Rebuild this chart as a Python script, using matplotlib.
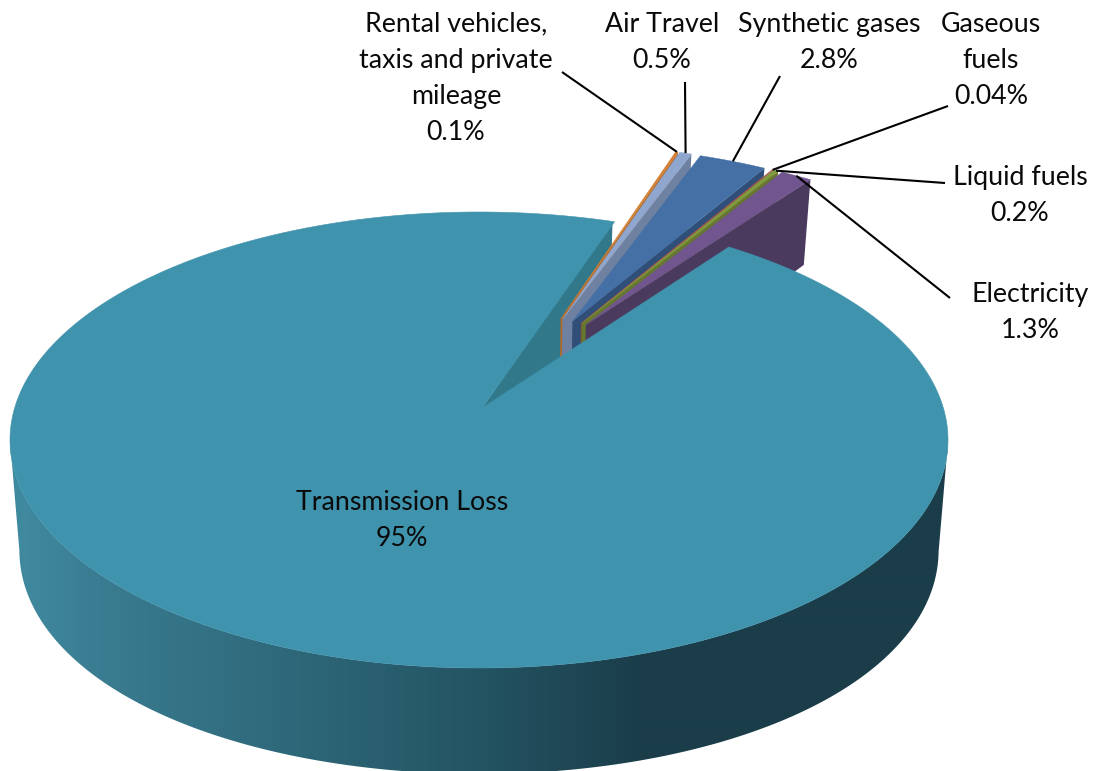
import numpy as np
import matplotlib
matplotlib.use("Agg")
import matplotlib.pyplot as plt
from matplotlib.patches import Polygon

# Emission shares, main slice first, then the small slices clockwise
names = ["Transmission Loss", "Rental vehicles,\ntaxis and private\nmileage", "Air Travel",
         "Synthetic gases", "Gaseous\nfuels", "Liquid fuels", "Electricity"]
values = [95, 0.1, 0.5, 2.8, 0.04, 0.2, 1.3]
value_labels = ["95%", "0.1%", "0.5%", "2.8%", "0.04%", "0.2%", "1.3%"]

top_colors = ["#4093AD", "#D57F32", "#8FA7CE", "#4570A5", "#B5504C", "#7E9B40", "#70558E"]
wall_colors = ["#31788A", "#B06A2C", "#6F81A0", "#2F4F78", "#8C3D3A", "#66772F", "#4A3A5E"]

label_centers = [(402, 520.5), (456, 78.5), (662, 42.5), (829, 42.5), (991, 60.5), (1020, 195.5), (1030, 312.5)]
leader_starts = [None, (562, 72), (685, 82), (780, 76), (948, 106), (945, 183), (950, 298)]

# Projected pie geometry, in figure pixels
CX, CY, RX, RY = 479.0, 440.0, 469.0, 228.0
APEX_U, APEX_V = 0.0064, -0.14
DEPTH_SCALE = 0.98
EXPLODE = 0.46
START_ANGLE = 18.6


def to_screen(du, dv):
    """Perspective map from the pie's unit disc onto the tilted top ellipse."""
    du, dv = np.asarray(du, float), np.asarray(dv, float)
    d = 1 + dv * APEX_V
    v = (dv + APEX_V) / d
    u = du * np.sqrt(1 - APEX_V ** 2) / d
    d2 = 1 + u * APEX_U
    u2 = (u + APEX_U) / d2
    v2 = v * np.sqrt(1 - APEX_U ** 2) / d2
    return CX + RX * u2, CY + RY * v2


def lowered(x, y):
    """Carry a point on the top face down to the bottom face of the pie."""
    v = (y - CY) / RY
    return CX + (x - CX) * DEPTH_SCALE, y + 110 + 8 * v - 12 * v ** 2


def on_circle(theta, ox=0.0, oy=0.0):
    t = np.radians(theta)
    return ox + np.sin(t), oy - np.cos(t)


plt.rcParams["font.family"] = ["Lato", "DejaVu Sans"]
fig = plt.figure(figsize=(10.96, 7.71), dpi=100)
ax = fig.add_axes([0, 0, 1, 1])

sweeps = 360 * np.array(values) / sum(values)
small_edges = START_ANGLE + np.concatenate([[0], np.cumsum(sweeps[1:])])
main_from, main_to = small_edges[-1], START_ANGLE + 360

rim = np.arange(main_from, main_to + 0.5, 0.5)
rim_x, rim_y = to_screen(*on_circle(rim))

# Outer rim of the main slice: a left-to-right shade clipped to the side band
front = rim_y > CY
front_x, front_y = rim_x[front], rim_y[front]
low_x, low_y = lowered(front_x, front_y)
band = Polygon(np.c_[np.r_[front_x, low_x[::-1]], np.r_[front_y, low_y[::-1]]],
               closed=True, transform=ax.transData, fc="none", ec="none")
ax.add_patch(band)
xs = np.arange(0, 1096)
stops = [15, 100, 300, 470, 640]
shade = np.stack([np.interp(xs, stops, [64, 58, 45, 36, 27]),
                  np.interp(xs, stops, [138, 124, 103, 85, 61]),
                  np.interp(xs, stops, [160, 145, 120, 100, 74])], axis=-1)[None, :, :] / 255
img = ax.imshow(shade, extent=(0, 1096, 771, 0), aspect="auto", interpolation="bilinear", zorder=1)
img.set_clip_path(band)

# Cut face of the main slice seen through the gap
ax_, ay_ = to_screen(0.0, 0.0)
ox_, oy_ = to_screen(*on_circle(main_to))
lx0, ly0 = lowered(ax_, ay_)
lx1, ly1 = lowered(ox_, oy_)
ax.fill([ax_, ox_, lx1, lx0], [ay_, oy_, ly1, ly0], color=wall_colors[0], lw=0, zorder=2)

# Exploded slices, left to right so nearer ones cover their neighbours
outer_mids = [None]
for k in range(1, len(values)):
    a0, a1 = small_edges[k - 1], small_edges[k]
    mid = 0.5 * (a0 + a1)
    direction = np.radians(27.0 + 0.52 * (mid - 26.5))
    off_u, off_v = EXPLODE * np.sin(direction), -EXPLODE * np.cos(direction)
    px, py = to_screen(off_u, off_v)
    arc = np.linspace(a0, a1, 16)
    qx, qy = to_screen(*on_circle(arc, off_u, off_v))
    wx0, wy0 = lowered(px, py)
    wx1, wy1 = lowered(qx[-1], qy[-1])
    z = 3 + k
    ax.fill([px, qx[-1], wx1, wx0], [py, qy[-1], wy1, wy0], color=wall_colors[k], lw=0, zorder=z)
    ax.fill(np.r_[px, qx], np.r_[py, qy], facecolor=top_colors[k], edgecolor=top_colors[k],
            lw=0.3, zorder=z)
    outer_mids.append(to_screen(*on_circle(mid, off_u, off_v)))

# Top face of the main slice
ax.fill(np.r_[ax_, rim_x], np.r_[ay_, rim_y], facecolor=top_colors[0], edgecolor=top_colors[0],
        lw=0.4, zorder=20)

# Leader lines and labels
for start, end in zip(leader_starts[1:], outer_mids[1:]):
    ax.plot([start[0], float(end[0])], [start[1], float(end[1])], color="black", lw=1.5,
            solid_capstyle="butt", zorder=25)

for name, pct, (tx, ty) in zip(names, value_labels, label_centers):
    ax.text(tx, ty, f"{name}\n{pct}", ha="center", va="center", multialignment="center",
            fontsize=19.3, linespacing=1.56, color="#0A0A0A", zorder=30)

ax.set_xlim(0, 1096)
ax.set_ylim(771, 0)
ax.axis("off")

fig.savefig("out.png", dpi=100, facecolor="white")
